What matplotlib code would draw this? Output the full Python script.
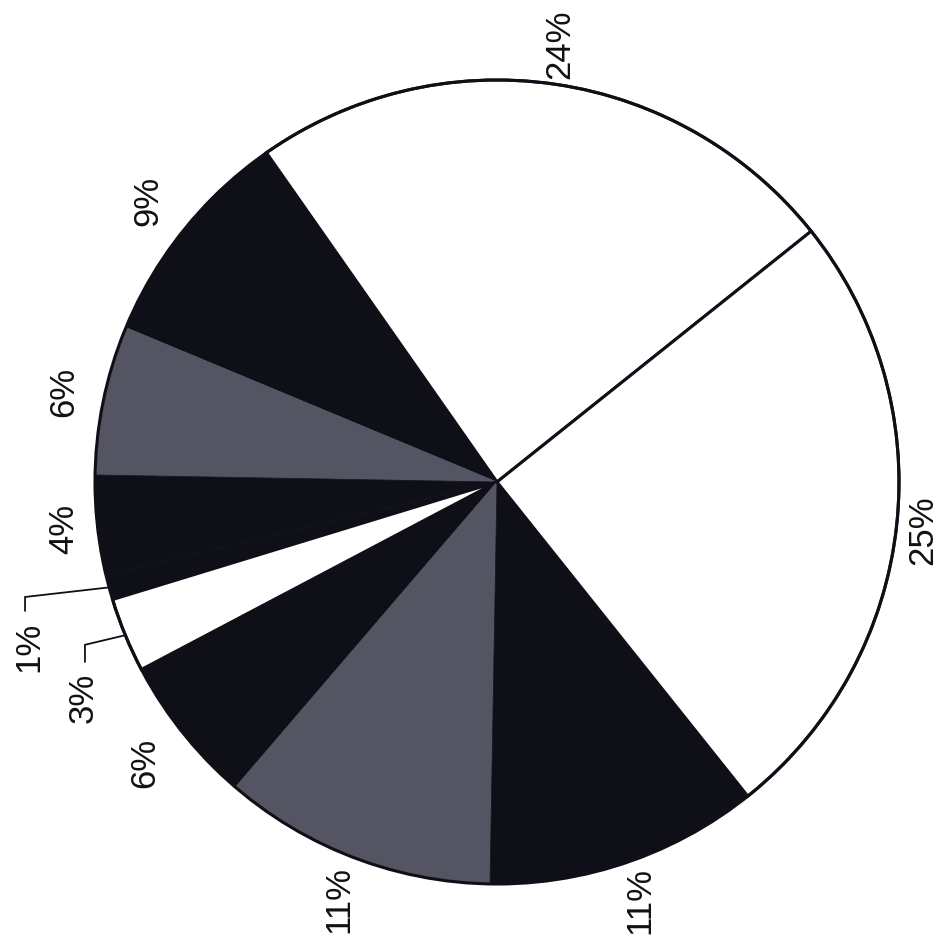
import numpy as np
import matplotlib
matplotlib.use('Agg')
from matplotlib import pyplot as plt

plt.rcParams['font.family'] = ['Liberation Sans', 'DejaVu Sans']

# slice shares (percent), counter-clockwise from the start angle
shares = [24, 9, 6, 4, 1, 3, 6, 11, 11, 25]
labels = ['24%', '9%', '6%', '4%', '1%', '3%', '6%', '11%', '11%', '25%']
black = '#0f0f18'
gray = '#545462'
white = '#ffffff'
fills = [white, black, gray, black, black, white, black, gray, black, white]
# radial distance of each label (units of radius)
label_r = [1.10, 1.115, 1.10, 1.085, 1.0, 1.0, 1.12, 1.11, 1.10, 1.065]
# small slices that get a leader line: text centre, elbow x, elbow y
leader = {'1%': (-1.164, -0.41, -1.174, -0.286),
          '3%': (-1.03, -0.537, -1.025, -0.405)}

start = 38.6

fig = plt.figure(figsize=(9.46, 9.43), dpi=100)
L = 1.2
px = 402.0  # pixels per unit radius
cx, cy = 497, 482
ax = fig.add_axes([(cx - L*px)/946, (943 - cy - L*px)/943, 2*L*px/946, 2*L*px/943])

wedges, _ = ax.pie(shares, colors=fills, startangle=start, counterclock=True,
                   wedgeprops=dict(edgecolor=black, linewidth=2.2, antialiased=True))
ax.set_xlim(-L, L)
ax.set_ylim(-L, L)
ax.axis('off')

# dark slices next to each other: hide their shared edges
for w, c in zip(wedges, fills):
    if c != white:
        w.set_edgecolor(c)
        w.set_linewidth(0.5)
# outer rim on top
circ = plt.Circle((0, 0), 1.0, fill=False, edgecolor=black, linewidth=2.2)
ax.add_patch(circ)

for w, lab, r in zip(wedges, labels, label_r):
    mid = np.deg2rad((w.theta1 + w.theta2) / 2)
    if lab in leader:
        tx, ty, bx, by = leader[lab]
        ex, ey = np.cos(mid), np.sin(mid)
        ax.plot([ex, bx, bx], [ey, by, ty + 0.09],
                color=black, lw=1.3, solid_joinstyle='miter', clip_on=False)
        ax.text(tx, ty, lab, rotation=90, fontsize=25, ha='center', va='center',
                color='#111111')
    else:
        ax.text(r*np.cos(mid), r*np.sin(mid), lab, rotation=90, fontsize=25,
                ha='center', va='center', color='#111111')

fig.savefig('out.png', dpi=100, facecolor='white')
